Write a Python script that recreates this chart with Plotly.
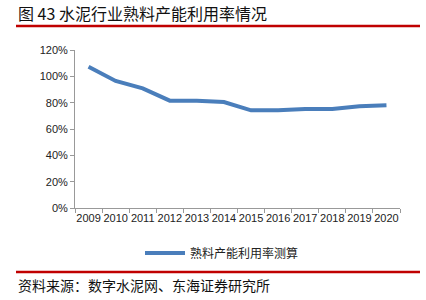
import plotly.graph_objects as go

years = ["2009", "2010", "2011", "2012", "2013", "2014", "2015", "2016", "2017", "2018", "2019", "2020"]
utilization = [1.073, 0.965, 0.909, 0.815, 0.815, 0.805, 0.742, 0.742, 0.752, 0.752, 0.772, 0.780]
series_name = "熟料产能利用率测算"
title_text = "图 43 水泥行业熟料产能利用率情况"
source_text = "资料来源：数字水泥网、东海证券研究所"

L, R, T, B = 75, 26, 50, 92
W, H = 426, 300
pw, ph = W - L - R, H - T - B

def px(x):
    return (x - L) / pw

def py(y):
    return (H - B - y) / ph

cjk = "Noto Sans CJK SC"

fig = go.Figure()
fig.add_trace(go.Scatter(
    x=years, y=utilization, mode="lines", name=series_name,
    line=dict(color="#4a7ebb", width=4),
))

fig.update_layout(
    width=W, height=H,
    margin=dict(l=L, r=R, t=T, b=B),
    paper_bgcolor="white", plot_bgcolor="white",
    showlegend=True,
    legend=dict(orientation="h", x=px(140), xanchor="left", y=py(253), yanchor="middle",
                font=dict(family=cjk, size=12, color="#222"), itemwidth=40),
    xaxis=dict(type="category", range=[-0.5, 11.5], showline=True, linecolor="#999", linewidth=1,
               ticks="outside", tickson="boundaries", ticklen=4, tickcolor="#999", tickangle=0,
               showgrid=False, tickfont=dict(family="Liberation Sans", size=11, color="#222")),
    yaxis=dict(range=[0, 1.2], dtick=0.2, tickformat=".0%", showline=True, linecolor="#999",
               linewidth=1, ticks="outside", ticklen=4, tickcolor="#999", showgrid=False,
               zeroline=False, tickfont=dict(family="Liberation Sans", size=11, color="#222")),
    shapes=[
        dict(type="line", xref="paper", yref="paper", x0=px(16), x1=px(420), y0=py(26), y1=py(26),
             line=dict(color="#c00000", width=2.5)),
        dict(type="line", xref="paper", yref="paper", x0=px(16), x1=px(420), y0=py(272), y1=py(272),
             line=dict(color="#c00000", width=2.5)),
    ],
    annotations=[
        dict(text=title_text, xref="paper", yref="paper", x=px(16), y=py(13), xanchor="left",
             yanchor="middle", showarrow=False, font=dict(family=cjk, size=16, color="#111")),
        dict(text=source_text, xref="paper", yref="paper", x=px(16), y=py(285), xanchor="left",
             yanchor="middle", showarrow=False, font=dict(family=cjk, size=14, color="#111")),
    ],
)

fig.write_html("out.html")
